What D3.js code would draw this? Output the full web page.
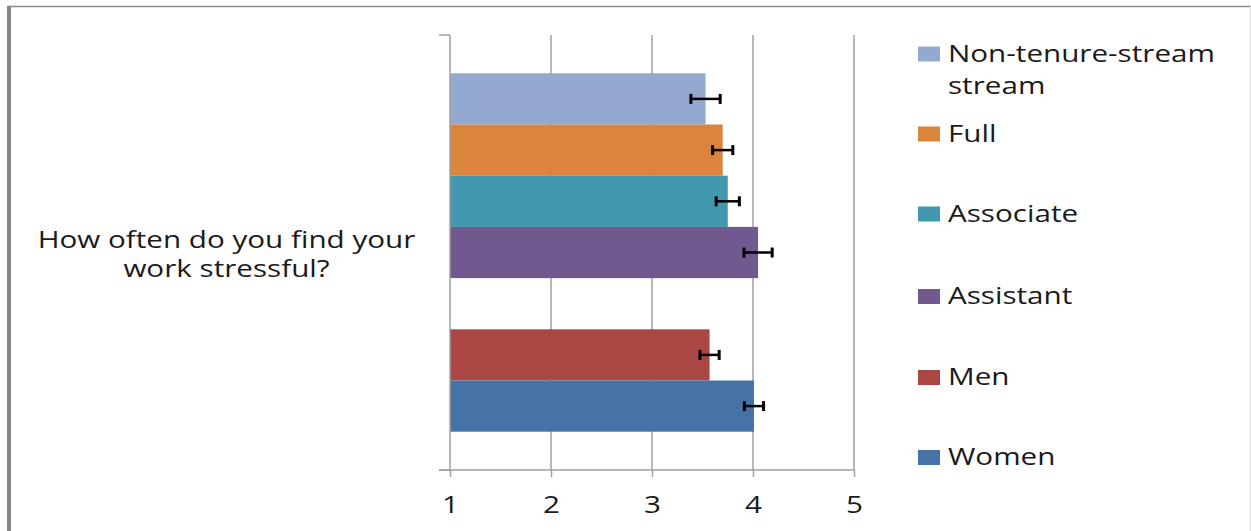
<!DOCTYPE html>
<html>
<head>
<meta charset="utf-8">
<script src="https://cdn.jsdelivr.net/npm/d3@7"></script>
<style>
  html, body { margin: 0; padding: 0; background: #fff; }
  svg { display: block; }
  text { font-family: "Open Sans", "Noto Sans", sans-serif; fill: #1a1a1a; }
</style>
</head>
<body>
<svg id="chart" width="1251" height="531"></svg>
<script>
// ---- data ----
const seriesNames = ["Non-tenure-stream stream", "Full", "Associate", "Assistant", "Men", "Women"];
const legendLines = [["Non-tenure-stream", "stream"], ["Full"], ["Associate"], ["Assistant"], ["Men"], ["Women"]];
const means  = [3.53, 3.70, 3.75, 4.05, 3.57, 4.01];
const errors = [0.145, 0.10, 0.115, 0.14, 0.095, 0.095];
const colors = ["#93a9cf", "#db843d", "#4198af", "#71588f", "#aa4643", "#4572a7"];
const slots  = ["Non-tenure-stream stream", "Full", "Associate", "Assistant", "", "Men", "Women"];
const xTicks = [1, 2, 3, 4, 5];
const categoryLines = ["How often do you find your", "work stressful?"];

// ---- layout ----
const svg = d3.select("#chart");
const W = 1251, H = 531;
const plot = { left: 450, right: 854, top: 35, bottom: 470 };
const fontSize = 23;

// frame
svg.append("rect").attr("x", 0).attr("y", 0).attr("width", W).attr("height", H).attr("fill", "#fff");
svg.append("line").attr("x1", 7).attr("x2", W).attr("y1", 6.5).attr("y2", 6.5).attr("stroke", "#8a8a8a").attr("stroke-width", 1.5);
svg.append("rect").attr("x", 7).attr("y", 6).attr("width", 4).attr("height", H).attr("fill", "#858585");
svg.append("line").attr("x1", W - 0.5).attr("x2", W - 0.5).attr("y1", 6).attr("y2", H).attr("stroke", "#e0e0e0").attr("stroke-width", 1);

// measure stretch factor for text (reference text is horizontally stretched)
const probe = svg.append("text").attr("font-size", fontSize).text("Non-tenure-stream");
const kx = 267 / probe.node().getComputedTextLength();
probe.remove();

const x = d3.scaleLinear().domain([1, 5]).range([plot.left, plot.right]);
const y = d3.scaleBand().domain(slots).range([plot.top, plot.bottom]).paddingInner(0).paddingOuter(0.748);

const grid = "#a0a0a0";

// gridlines
svg.append("g").selectAll("line").data(xTicks.slice(1)).join("line")
  .attr("x1", d => x(d)).attr("x2", d => x(d))
  .attr("y1", plot.top).attr("y2", plot.bottom)
  .attr("stroke", grid).attr("stroke-width", 1.5);

// bars
svg.append("g").selectAll("rect").data(seriesNames).join("rect")
  .attr("x", x(1))
  .attr("y", d => y(d))
  .attr("width", (d, i) => x(means[i]) - x(1))
  .attr("height", y.bandwidth())
  .attr("fill", (d, i) => colors[i]);

// vertical axis line at x=1 and its ticks
svg.append("line").attr("x1", x(1)).attr("x2", x(1)).attr("y1", plot.top).attr("y2", plot.bottom)
  .attr("stroke", grid).attr("stroke-width", 1.5);
svg.append("g").selectAll("line").data([plot.top, plot.bottom]).join("line")
  .attr("x1", x(1) - 11).attr("x2", x(1)).attr("y1", d => d).attr("y2", d => d)
  .attr("stroke", grid).attr("stroke-width", 1.5);

// x axis
const xAxis = d3.axisBottom(x).tickValues(xTicks).tickFormat(d3.format("d")).tickSize(7).tickPadding(0);
const gx = svg.append("g").attr("transform", `translate(0,${plot.bottom})`).call(xAxis);
gx.select(".domain").remove();
gx.selectAll(".tick line").attr("stroke", grid).attr("stroke-width", 1.5);
gx.append("line").attr("x1", x(1) - 11).attr("x2", x(5)).attr("y1", 0).attr("y2", 0)
  .attr("stroke", grid).attr("stroke-width", 1.5);
gx.selectAll(".tick text")
  .attr("font-size", fontSize).attr("font-family", null)
  .attr("fill", "#1a1a1a")
  .attr("y", 43).attr("dy", null)
  .attr("transform", `scale(${kx},1)`);

// error bars
const eb = svg.append("g").selectAll("g").data(seriesNames).join("g")
  .attr("transform", d => `translate(0,${y(d) + y.bandwidth() / 2})`);
eb.append("line")
  .attr("x1", (d, i) => x(means[i] - errors[i])).attr("x2", (d, i) => x(means[i] + errors[i]))
  .attr("y1", 0).attr("y2", 0).attr("stroke", "#000").attr("stroke-width", 2.5);
eb.selectAll(".cap").data((d, i) => [means[i] - errors[i], means[i] + errors[i]]).join("line")
  .attr("class", "cap")
  .attr("x1", v => x(v)).attr("x2", v => x(v))
  .attr("y1", -5).attr("y2", 5).attr("stroke", "#000").attr("stroke-width", 3);

// category label
const catCx = 226.5;
svg.append("g").selectAll("text").data(categoryLines).join("text")
  .attr("font-size", fontSize)
  .attr("text-anchor", "middle")
  .attr("transform", (d, i) => `translate(${catCx},${248 + i * 29}) scale(${kx},1)`)
  .text(d => d);

// legend
const legendY = [61.5, 141.5, 221.5, 304, 385, 465];
const lg = svg.append("g").selectAll("g").data(legendLines).join("g")
  .attr("transform", (d, i) => `translate(918,${legendY[i]})`);
lg.append("rect").attr("x", 0).attr("y", -15).attr("width", 22).attr("height", 15)
  .attr("fill", (d, i) => colors[i]);
lg.selectAll("text").data(d => d).join("text")
  .attr("font-size", fontSize)
  .attr("transform", (t, j) => `translate(30,${j * 32}) scale(${kx},1)`)
  .text(t => t);
</script>
</body>
</html>
